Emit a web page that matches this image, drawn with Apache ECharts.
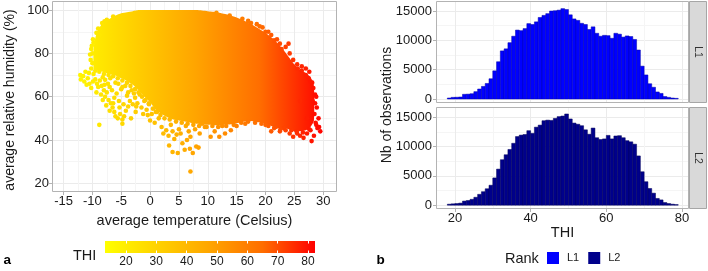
<!DOCTYPE html>
<html><head><meta charset="utf-8">
<script src="https://cdn.jsdelivr.net/npm/echarts@6/dist/echarts.min.js"></script>
<style>html,body{margin:0;padding:0;background:#fff}#c{width:708px;height:271px}</style>
</head><body><div id="c"></div>
<script>
// ================= DATA =================
// Panel a: dense cloud outline (temperature column -> lower / upper humidity)
const blobTemp = [-9.8,-9.5,-9,-8.5,-8,-7,-6,-5,-4,-3,-2,-1,0,1,2,3,4,5,6,7,8,9,10,11,12,13,14,15,16,17,18,19,20,21,22,23,24,25,26,27,27.8,28.4];
const blobUpperHum = [82,87,91,93,94.5,96,97.5,98.5,99,99.5,100,100,100,100,100,100,100,100,100,100,100,99.8,99.5,99.2,98.8,98.2,97.5,96.6,95.5,94.2,92.8,91.2,89.5,87.5,85,82,78.5,75,72.5,71,69,65];
const blobLowerHum = [73,72.5,72,71.8,71.3,70.5,69.8,68.5,67.3,65.5,63,60,57.5,54,52,50.5,49.5,49,48.5,48,47.5,47.2,47,46.8,46.8,47,47.3,47.7,48.3,48.8,48.6,48.2,47.5,46.5,45.5,45.5,45,44,44,44.5,46,49];
// Panel a: individual observations around the dense cloud [temperature, humidity]
const sparsePoints = [
 [-12.1,70],[-12,68],[-11.6,69.5],[-11.4,67],[-11,65.5],[-10.8,68.5],[-10.5,66],[-10.2,64],[-10.6,71],[-10.2,73],[-10,75.5],[-9.8,70.5],[-9.5,68],[-9.2,66],[-9,64.5],[-9.3,62],[-8.7,67.5],[-8.4,65],[-8,63],[-8.5,61],[-7.8,60],[-7.5,62],[-7.2,58.5],[-7.6,56],[-6.8,57],[-6.5,55],[-7,53.5],[-6.2,53],[-6,51],[-5.6,50],[-5.2,52],[-4.8,49.5],[-4.5,51],[-4.2,53.5],[-3.8,55.5],[-4.6,56.5],[-5.4,58],[-6.2,59.5],[-5.8,61.5],[-6.6,63],[-5,63.5],[-4,60.5],[-3.5,58],[-3,56.5],[-2.6,59.5],[-2.2,57],[-1.8,61],[-1.5,55],[-1,58],[-0.6,54],[-0.2,56.5],[0.3,52],[-1.2,52],[-2.5,53],[-3.3,50],[-4.8,47.5],[-8.8,47],[-7.3,66],[-6.9,68.5],[-5.5,66],[-4.3,65],[-3.2,63],[-2.8,61.5],[0.8,48],[1.5,50],[0,49],
 [-9.5,72],[-8.8,71.5],[-8,70.5],[-7.2,70],[-6.4,69.5],[-5.6,68.5],[-4.8,67.5],[-4,66.5],[-3.4,65],[-2.6,63.5],[-2,62],[-1.4,60],[-0.8,58.5],[-0.2,57],[0.5,54.5],[1.2,53],[-7.8,67.8],[-6,66.5],[-4.8,64.5],[-8.2,69],[-9.9,67],[-11.2,71.5],[-7,64.5],[-3.8,62],[-2.4,55.5],[-5.3,55],[-6.4,57],[-8.2,58.5],[-7.9,65.5],[-0.4,51.5],
 [-10.3,77],[-10.4,79.5],[-10,80],[-10.2,82],[-10.1,83.5],[-9.8,85],[-9.9,86.5],[-9.3,89.5],[-8.8,88.5],[-8.3,94],[-7.5,95.5],[-6.4,97],[-9,91.5],[-7.9,94.8],
 [2,46],[2.3,43],[2.8,44.5],[3.2,42],[3.6,47],[3.9,44],[3.3,37.5],[4.2,40.5],[4.6,42.5],[5,45],[5.3,43],[3.9,34.5],[4.8,34],[5.6,38.5],[6,35.5],[6.4,40],[6.9,36],[7.4,34],[8,37],[8.4,36.5],[7,41.5],[6.7,44],[7.8,45],[8.6,43],[9.5,46],[10.5,41.5],[11.2,44],[12,41.5],[13,43],[14,44.5],[15,46.5],[16.5,47.5],[7,25.5],[6.2,46.5],[9,47.5],[12.5,46.5],
 [1,53],[1.8,51.5],[2.5,50],[3.4,49.5],[4.5,48.5],[5.5,48],[6.5,47.5],[7.5,47],[8.5,46.5],[9.8,46],[10.8,46.5],[11.8,46],[13.2,46.5],[14.5,47],[15.8,48],[17,48.5],[18.2,48],[19.3,47.5],[20.5,46.5],[21.5,45.5],[22.5,44],[23.2,45.5],[24.5,44.5],[25.5,43],[26.5,43.5],[27.8,44.5],[28.8,47],
 [20,47],[21,44],[21.8,46],[22.6,45],[23.5,44.5],[24.2,43],[24.8,41.5],[25.4,44],[26,42],[26.6,41],[27.2,43],[27.6,45],[28,39.5],[28.4,42],[29,45.5],[29.5,44],[29.3,46],[28.7,48],[28.5,52],[28.9,55],[28.2,58],[28.6,61],[28.3,64],[28.1,66.5],[27.5,68.5],[27,70],[26.3,72],[25.6,73],[24,84.5],[22.8,82],[21.5,86],[20,90],[19,92.5],[17.5,94],[16,96],[13.8,97.5],[11.5,98.7],[26,58],[27.2,50],
 [17,95],[18.5,93.5],[19.5,92],[20.5,90],[21,88.5],[22,86.5],[22.5,84.5],[23.5,83],[24.2,80],[24.8,77],[25.5,75],[26.3,74],[27,73],[27.6,71.5],[27.8,67],[28.8,60],[28.6,57],[29.2,50]
];
const tempTicks = [-15,-10,-5,0,5,10,15,20,25,30];
const humTicks = [20,40,60,80,100];
// THI colour scale (data range of THI) and its ticks
const thiRange = [13.1, 82.3];
const thiLegendTicks = [20,30,40,50,60,70,80];
const tempAtThiRange = [-14.6, 30.1];   // temperature at which the cloud reaches the THI colour ends
// Panel b: histograms of THI (bin width 1)
const thiBinCenters = [18.5,19.5,20.5,21.5,22.5,23.5,24.5,25.5,26.5,27.5,28.5,29.5,30.5,31.5,32.5,33.5,34.5,35.5,36.5,37.5,38.5,39.5,40.5,41.5,42.5,43.5,44.5,45.5,46.5,47.5,48.5,49.5,50.5,51.5,52.5,53.5,54.5,55.5,56.5,57.5,58.5,59.5,60.5,61.5,62.5,63.5,64.5,65.5,66.5,67.5,68.5,69.5,70.5,71.5,72.5,73.5,74.5,75.5,76.5,77.5,78.5];
const countsL1 = [170,280,300,340,800,830,900,1250,1700,2150,2650,3450,4800,6350,8200,8550,9600,10700,11750,11650,12000,12850,12700,13150,13900,14250,14550,15000,15050,15150,15400,15250,14350,13650,13400,12900,12700,11850,12300,11200,10700,10850,10800,10350,11200,11050,10550,10750,10650,10150,8350,5600,4100,2600,2000,1200,950,420,280,170,110];
const countsL2 = [170,230,280,350,700,800,1000,1350,1850,2300,2800,3400,4650,6150,7750,8600,9500,10550,11700,11950,12050,12700,12250,13300,13650,14400,14500,14450,14800,15100,15200,15550,14700,14000,13800,13550,12850,12100,13150,11500,11200,11300,11900,11300,11800,11850,11500,11000,10800,10400,8400,5700,4000,2850,2050,1150,900,450,280,170,100];
const countTicks = [0,5000,10000,15000];
const thiHistTicks = [20,40,60,80];
const rankNames = ['L1','L2'];
const binWidth = 1;

// ================= CHART =================
const FONT = "'Liberation Sans', Arial, Helvetica, sans-serif";
const TXT = '#1a1a1a';
const TICK = '#B3B3B3';
const GRID_MAJOR = '#EBEBEB';
const GRID_MINOR = '#F5F5F5';
const gradColors = ['#FFFF00','#FFD200','#FFA500','#FF6E00','#FF0000'];
const gradStops = gradColors.map((c,i)=>({offset:i/(gradColors.length-1), color:c}));
const rankColors = ['#0000FF','#00008B'];
const rankStroke = ['#0000AA','#00005A'];

function fmt(ticks){ return function(v){ for (const t of ticks){ if (Math.abs(t-v)<1e-6) return String(t);} return ''; }; }
function axis(opts){
  const o = {
    type:'value', gridIndex:opts.grid, min:opts.min, max:opts.max,
    minInterval:opts.step, maxInterval:opts.step, splitNumber:4,
    axisLine:{show:false, onZero:false},
    axisTick:{show:opts.ticks!==false, length:3, lineStyle:{color:TICK}, customValues:opts.tickVals},
    axisLabel:{show:opts.labels!==false, color:TXT, fontSize:13, fontFamily:FONT, margin:opts.margin||3, formatter:fmt(opts.tickVals), customValues:opts.tickVals},
    splitLine:{show:true, lineStyle:{color:GRID_MAJOR, width:1}},
    minorTick:{show:false, splitNumber:2},
    minorSplitLine:{show:true, lineStyle:{color:GRID_MINOR, width:1}}
  };
  if (opts.position) o.position = opts.position;
  if (opts.name){ o.name = opts.name; o.nameLocation='middle'; o.nameGap=opts.nameGap; o.nameTextStyle={color:TXT, fontSize:14.5, fontFamily:FONT}; }
  return o;
}

const chart = echarts.init(document.getElementById('c'), null, {renderer:'canvas', width:708, height:271});

function histItem(idx){
  return function(params, api){
    const c = api.value(0), v = api.value(1);
    const p0 = api.coord([c - binWidth/2, v]);
    const p1 = api.coord([c + binWidth/2, 0]);
    return {type:'rect', shape:{x:p0[0], y:p0[1], width:p1[0]-p0[0], height:p1[1]-p0[1]},
      style:{fill:rankColors[idx], stroke:rankStroke[idx], lineWidth:0.5}};
  };
}

const option = {
  animation:false,
  backgroundColor:'#fff',
  textStyle:{fontFamily:FONT},
  grid:[
    {left:52, top:1, width:285, height:191, outerBoundsMode:'none', containLabel:false},
    {left:436, top:1, width:253, height:102, outerBoundsMode:'none', containLabel:false},
    {left:436, top:107, width:253, height:102, outerBoundsMode:'none', containLabel:false},
    {left:105, top:241, width:210, height:12, outerBoundsMode:'none', containLabel:false}
  ],
  xAxis:[
    axis({grid:0, min:-17, max:32.4, step:5, tickVals:tempTicks, name:'average temperature (Celsius)', nameGap:21}),
    axis({grid:1, min:15, max:81.85, step:20, tickVals:thiHistTicks, labels:false, ticks:false}),
    axis({grid:2, min:15, max:81.85, step:20, tickVals:thiHistTicks, name:'THI', nameGap:16}),
    {type:'value', gridIndex:3, min:thiRange[0], max:thiRange[1], minInterval:10, maxInterval:10, z:10,
      axisLine:{show:false, onZero:false}, splitLine:{show:false},
      axisTick:{show:true, inside:true, length:2.5, lineStyle:{color:'#fff', width:1}, customValues:thiLegendTicks},
      axisLabel:{color:TXT, fontSize:12, fontFamily:FONT, margin:3, formatter:fmt(thiLegendTicks), customValues:thiLegendTicks}},
    {type:'value', gridIndex:3, position:'top', min:thiRange[0], max:thiRange[1], minInterval:10, maxInterval:10, z:10,
      axisLine:{show:false, onZero:false}, splitLine:{show:false}, axisLabel:{show:false},
      axisTick:{show:true, inside:true, length:2.5, lineStyle:{color:'#fff', width:1}, customValues:thiLegendTicks}}
  ],
  yAxis:[
    axis({grid:0, min:16, max:104.2, step:20, tickVals:humTicks}),
    axis({grid:1, min:-682, max:16705, step:5000, tickVals:countTicks, margin:4}),
    axis({grid:2, min:-650, max:16740, step:5000, tickVals:countTicks, margin:4}),
    {type:'value', gridIndex:3, min:0, max:1, show:false}
  ],
  visualMap:[{type:'continuous', show:false, seriesIndex:1, dimension:0,
    min:tempAtThiRange[0], max:tempAtThiRange[1], inRange:{color:gradColors}}],
  legend:{data:[{name:rankNames[0], icon:'rect'},{name:rankNames[1], icon:'rect'}],
    left:547, top:252, itemWidth:12, itemHeight:12, itemGap:9, padding:0, selectedMode:false,
    textStyle:{fontSize:11, color:TXT, fontFamily:FONT, padding:[0,0,0,3]}},
  series:[
    {type:'custom', xAxisIndex:0, yAxisIndex:0, silent:true,
      data: blobTemp.map((t,i)=>[t, blobLowerHum[i], blobUpperHum[i]]),
      encode:{x:0, y:[1,2]},
      renderItem:function(params, api){
        if (params.dataIndex !== 0) return null;
        const pts = [];
        for (let i=0;i<blobTemp.length;i++) pts.push(api.coord([blobTemp[i], blobUpperHum[i]]));
        for (let i=blobTemp.length-1;i>=0;i--) pts.push(api.coord([blobTemp[i], blobLowerHum[i]]));
        const x0 = api.coord([tempAtThiRange[0], 50])[0], x1 = api.coord([tempAtThiRange[1], 50])[0];
        return {type:'polygon', shape:{points:pts, smooth:0.2},
          style:{fill:new echarts.graphic.LinearGradient(x0,0,x1,0,gradStops,true)}};
      }},
    {type:'scatter', xAxisIndex:0, yAxisIndex:0, data:sparsePoints, symbolSize:4.6, silent:true,
      itemStyle:{opacity:1}},
    {type:'custom', name:rankNames[0], xAxisIndex:1, yAxisIndex:1, silent:true,
      itemStyle:{color:rankColors[0]},
      data: thiBinCenters.map((c,i)=>[c, countsL1[i]]), encode:{x:0, y:1}, renderItem:histItem(0)},
    {type:'custom', name:rankNames[1], xAxisIndex:2, yAxisIndex:2, silent:true,
      itemStyle:{color:rankColors[1]},
      data: thiBinCenters.map((c,i)=>[c, countsL2[i]]), encode:{x:0, y:1}, renderItem:histItem(1)},
    {type:'custom', xAxisIndex:3, yAxisIndex:3, silent:true,
      data:[[thiRange[0], thiRange[1]]], encode:{x:[0,1]},
      renderItem:function(params, api){
        const a = api.coord([api.value(0), 1]); const b = api.coord([api.value(1), 0]);
        return {type:'rect', shape:{x:a[0], y:a[1], width:b[0]-a[0], height:b[1]-a[1]},
          style:{fill:new echarts.graphic.LinearGradient(a[0],0,b[0],0,gradStops,true)}};
      }}
  ],
  graphic:[
    // panel borders
    {type:'rect', z:100, silent:true, shape:{x:52.5, y:1.5, width:284, height:190}, style:{fill:null, stroke:'#B3B3B3', lineWidth:1}},
    {type:'rect', z:100, silent:true, shape:{x:436.5, y:1.5, width:252, height:101}, style:{fill:null, stroke:'#B3B3B3', lineWidth:1}},
    {type:'rect', z:100, silent:true, shape:{x:436.5, y:107.5, width:252, height:101}, style:{fill:null, stroke:'#B3B3B3', lineWidth:1}},
    // facet strips
    {type:'rect', z:100, silent:true, shape:{x:689.5, y:1.5, width:17, height:101}, style:{fill:'#D9D9D9', stroke:'#A6A6A6', lineWidth:1}},
    {type:'rect', z:100, silent:true, shape:{x:689.5, y:107.5, width:17, height:101}, style:{fill:'#D9D9D9', stroke:'#A6A6A6', lineWidth:1}},
    {type:'text', z:101, silent:true, x:698, y:52, rotation:-Math.PI/2, style:{text:rankNames[0], fill:'#333', font:'10.5px '+FONT, align:'center', verticalAlign:'middle'}},
    {type:'text', z:101, silent:true, x:698, y:158, rotation:-Math.PI/2, style:{text:rankNames[1], fill:'#333', font:'10.5px '+FONT, align:'center', verticalAlign:'middle'}},
    // y titles
    {type:'text', silent:true, x:10, y:100, rotation:Math.PI/2, style:{text:'average relative humidity (%)', fill:TXT, font:'14px '+FONT, align:'center', verticalAlign:'middle'}},
    {type:'text', silent:true, x:387, y:105, rotation:Math.PI/2, style:{text:'Nb of observations', fill:TXT, font:'14px '+FONT, align:'center', verticalAlign:'middle'}},
    // legend titles
    {type:'text', silent:true, x:73, y:256, style:{text:'THI', fill:TXT, font:'14.5px '+FONT, align:'left', verticalAlign:'middle'}},
    {type:'text', silent:true, x:505, y:258.5, style:{text:'Rank', fill:TXT, font:'14.5px '+FONT, align:'left', verticalAlign:'middle'}},
    // panel tags
    {type:'text', silent:true, x:3.5, y:260.3, style:{text:'a', fill:'#000', font:'bold 13.5px '+FONT, align:'left', verticalAlign:'middle'}},
    {type:'text', silent:true, x:376.5, y:260.3, style:{text:'b', fill:'#000', font:'bold 13.5px '+FONT, align:'left', verticalAlign:'middle'}}
  ]
};
chart.setOption(option);
</script></body></html>
